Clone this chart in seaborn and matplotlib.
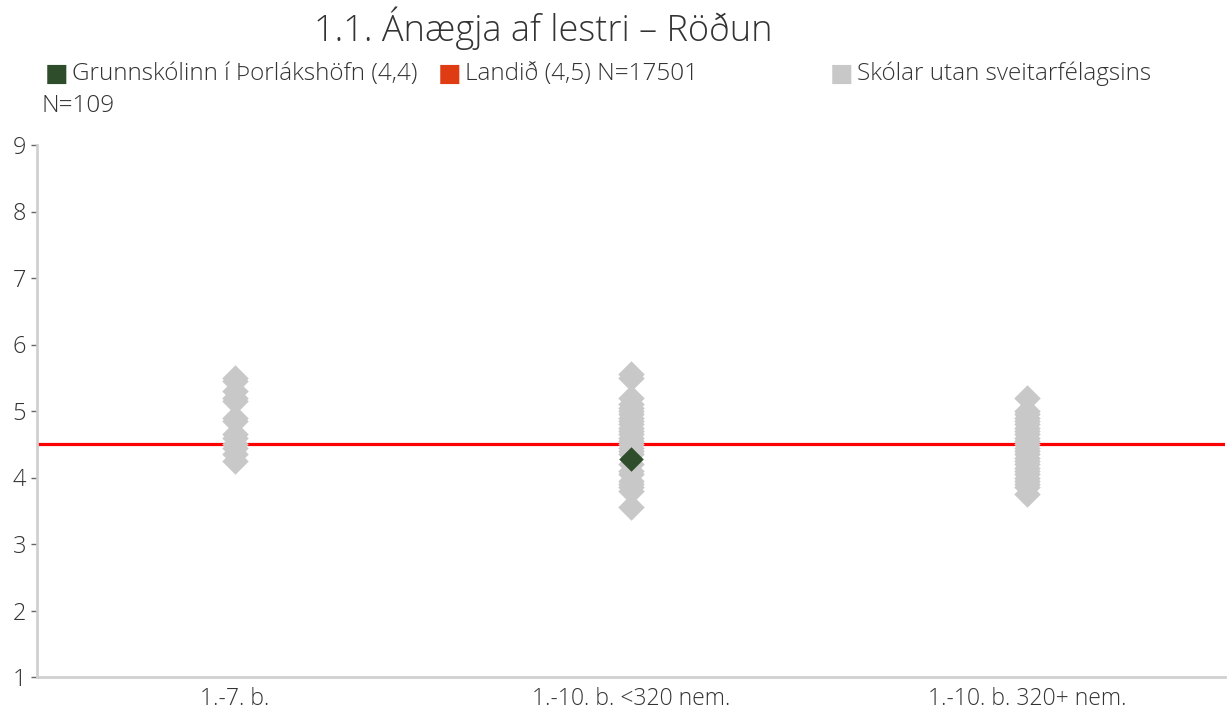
"""Ánægja af lestri - röðun skóla eftir stærðarflokkum."""

import matplotlib

matplotlib.use("Agg")
import matplotlib.pyplot as plt
import pandas as pd
import seaborn as sns

CATEGORIES = ["1.-7. b.", "1.-10. b. <320 nem.", "1.-10. b. 320+ nem."]

# skólar utan sveitarfélagsins, lesið af myndinni
GROUP_SMALL = [5.5, 5.45, 5.3, 5.2, 5.15, 4.9, 4.85, 4.65, 4.6, 4.5, 4.45, 4.35, 4.25]
GROUP_MID = [5.55, 5.5, 5.2, 5.1, 5.05, 5.0, 4.95, 4.9, 4.85, 4.8, 4.75, 4.7, 4.65,
             4.6, 4.55, 4.5, 4.45, 4.4, 4.35, 4.2, 4.1, 4.05, 3.95, 3.9, 3.85, 3.8, 3.55]
GROUP_LARGE = [5.2, 5.0, 4.95, 4.9, 4.85, 4.8, 4.75, 4.7, 4.65, 4.6, 4.55, 4.5, 4.45,
               4.4, 4.35, 4.3, 4.25, 4.2, 4.15, 4.1, 4.05, 4.0, 3.95, 3.9, 3.85, 3.75]

SCHOOL_CATEGORY = "1.-10. b. <320 nem."
SCHOOL_VALUE = 4.28
NATIONAL_VALUE = 4.5

LEGEND_LABELS = ["Grunnskólinn í Þorlákshöfn (4,4)", "Landið (4,5) N=17501",
                 "Skólar utan sveitarfélagsins"]
LEGEND_EXTRA = "N=109"
TITLE = "1.1. Ánægja af lestri – Röðun"

GREY = "#c8c8c8"
GREEN = "#2e4d2b"
RED = "#ff0000"
RED_LEGEND = "#e03c14"
TEXT = "#333333"

others = pd.DataFrame({
    "flokkur": [CATEGORIES[0]] * len(GROUP_SMALL) + [CATEGORIES[1]] * len(GROUP_MID)
    + [CATEGORIES[2]] * len(GROUP_LARGE),
    "gildi": GROUP_SMALL + GROUP_MID + GROUP_LARGE,
})
school = pd.DataFrame({"flokkur": [SCHOOL_CATEGORY], "gildi": [SCHOOL_VALUE]})

sns.set_theme(style="white")
plt.rcParams["font.family"] = ["Open Sans", "DejaVu Sans"]
plt.rcParams["font.weight"] = "light"

fig = plt.figure(figsize=(12.31, 7.10), dpi=100)
ax = fig.add_axes([37 / 1231, 1 - 677 / 710, (1225 - 37) / 1231, (677 - 145) / 710])

ax.axhline(NATIONAL_VALUE, color=RED, lw=2.3, zorder=1)
sns.stripplot(data=others, x="flokkur", y="gildi", order=CATEGORIES, jitter=False,
              marker="D", s=13.5, color=GREY, linewidth=0, ax=ax, zorder=2)
sns.stripplot(data=school, x="flokkur", y="gildi", order=CATEGORIES, jitter=False,
              marker="D", s=12.5, color=GREEN, linewidth=0, ax=ax, zorder=3)

ax.set_ylim(1, 9)
ax.set_xlim(-0.5, 2.5)
ax.set_yticks(range(1, 10))
ax.set_xlabel("")
ax.set_ylabel("")
for side in ["top", "right"]:
    ax.spines[side].set_visible(False)
for side in ["left", "bottom"]:
    ax.spines[side].set_color("#d0d0d0")
    ax.spines[side].set_linewidth(2)
ax.tick_params(axis="y", left=True, length=4, width=1, color="#666666", pad=4,
               labelsize=17, labelcolor=TEXT)
ax.tick_params(axis="x", bottom=False, pad=1, labelsize=16.5, labelcolor=TEXT)

fig.text(543 / 1231, 1 - 28 / 710, TITLE, ha="center", va="center", fontsize=26,
         color=TEXT)

legend_x = [45, 438, 830]
legend_colors = [GREEN, RED_LEGEND, GREY]
for x, col, label in zip(legend_x, legend_colors, LEGEND_LABELS):
    fig.text(x / 1231, 1 - 74 / 710, "■", ha="left", va="center", fontsize=18,
             color=col, family=["DejaVu Sans"], fontweight="normal")
    fig.text((x + 27) / 1231, 1 - 74 / 710, label, ha="left", va="center",
             fontsize=17.5, color=TEXT)
fig.text(42 / 1231, 1 - 106 / 710, LEGEND_EXTRA, ha="left", va="center",
         fontsize=17.5, color=TEXT)

fig.savefig("out.png", dpi=100)
